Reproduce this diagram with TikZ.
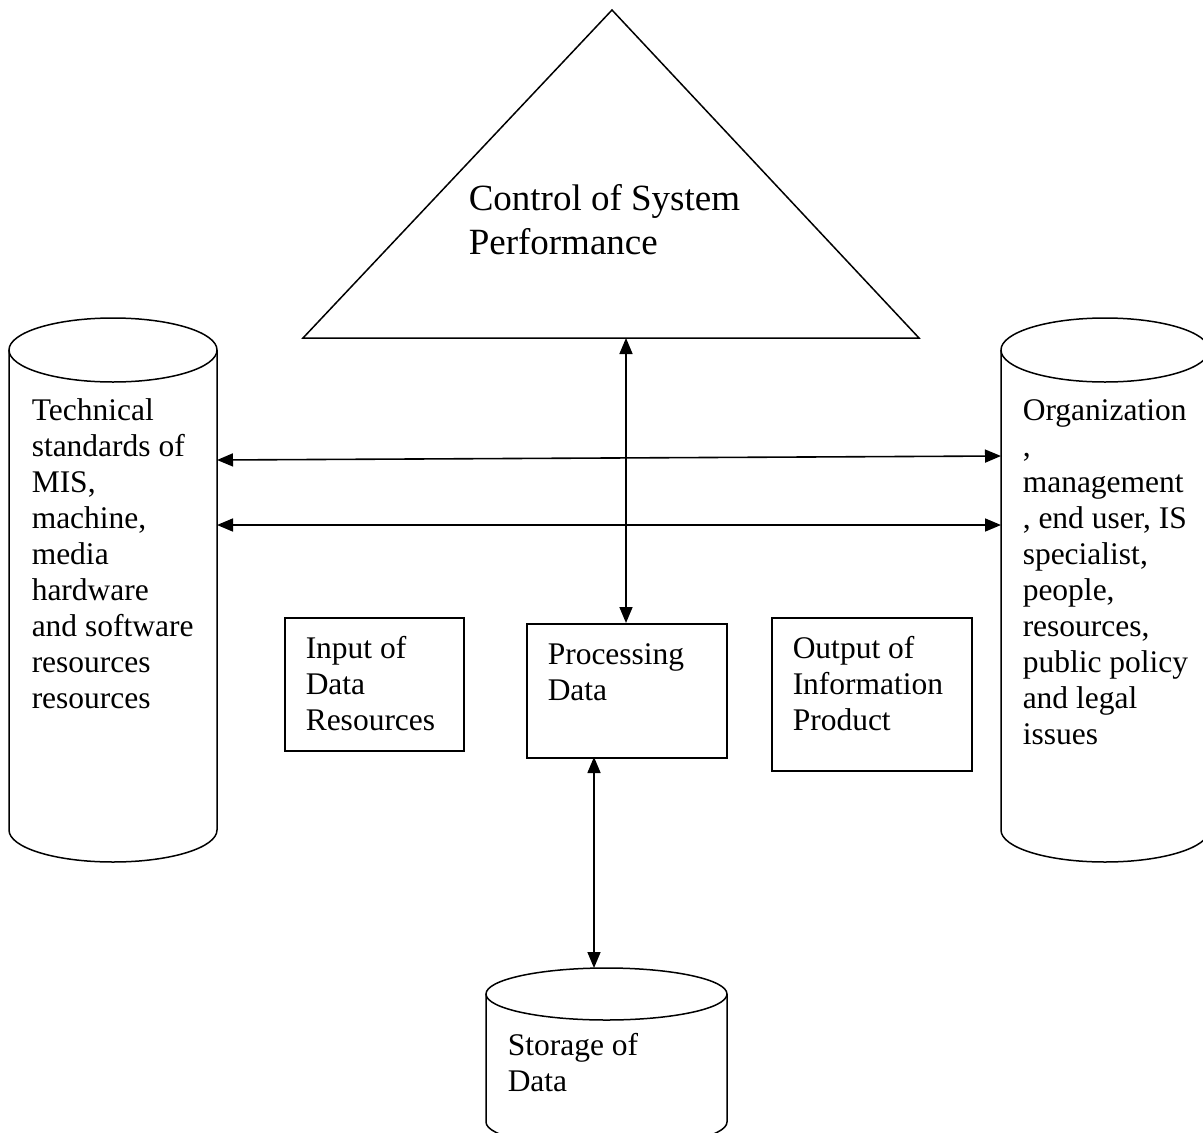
\documentclass[tikz,border=0pt]{standalone}
\usepackage{fontspec}
\setmainfont{Liberation Serif}
\usetikzlibrary{arrows.meta}
\begin{document}
\begin{tikzpicture}[x=1pt,y=-1pt,line width=1.5pt,
  tip/.tip={Triangle[length=16pt,width=13pt]},
  conn/.style={tip-tip, line width=1.6pt},
  bodytext/.style={anchor=north west, inner sep=0pt, align=left,
    font=\fontsize{31.5}{36}\selectfont},
  titletext/.style={anchor=north west, inner sep=0pt, align=left,
    font=\fontsize{37}{44}\selectfont},
  procbox/.style 2 args={draw, anchor=north west, inner sep=0pt,
    minimum width=#1, minimum height=#2}]
\useasboundingbox (0,0) rectangle (1203,1133);

% control triangle
\draw[line join=miter] (612,10) -- (919,338) -- (303,338) -- cycle;
\node[titletext] (ctrl) at (468,179.2) {\strut Control of System\\Performance};

% left cylinder: technical resources
\draw (9,350) -- (9,830) arc[start angle=180, end angle=360, x radius=104pt, y radius=32pt] -- (217,350);
\draw[fill=white] (113,350) ellipse [x radius=104pt, y radius=32pt];
\node[bodytext] (tech) at (31,394.8) {\strut Technical\\standards of\\MIS,\\machine,\\media\\hardware\\and software\\resources\\resources};

% right cylinder: people and organization
\draw (1001,350) -- (1001,830) arc[start angle=180, end angle=360, x radius=104pt, y radius=32pt] -- (1209,350);
\draw[fill=white] (1105,350) ellipse [x radius=104pt, y radius=32pt];
\node[bodytext] (org) at (1022,394.8) {\strut Organization\\,\\management\\, end user, IS\\specialist,\\people,\\resources,\\public policy\\and legal\\issues};

% storage cylinder
\draw (486,994) -- (486,1122) arc[start angle=180, end angle=360, x radius=120.5pt, y radius=26pt] -- (727,994);
\draw[fill=white] (606.5,994) ellipse [x radius=120.5pt, y radius=26pt];
\node[bodytext] (store) at (507,1029.8) {\strut Storage of\\Data};

% IPO boxes
\node[procbox={179pt}{133pt}] (inbox) at (284,617) {};
\node[bodytext] (intext) at (305,632.8) {\strut Input of\\Data\\Resources};
\node[procbox={200pt}{134pt}] (proc) at (526,623) {};
\node[bodytext] (proctext) at (547,638.8) {\strut Processing\\Data};
\node[procbox={200pt}{153pt}] (outbox) at (771,617) {};
\node[bodytext] (outtext) at (792,632.8) {\strut Output of\\Information\\Product};

% connector end points
\coordinate (triBase) at (626,338);
\coordinate (procTop) at (626,623);
\coordinate (procLow) at (594,757);
\coordinate (storeTop) at (594,968);
\coordinate (techA) at (217,460);
\coordinate (orgA) at (1001,456);
\coordinate (techB) at (217,525);
\coordinate (orgB) at (1001,525);

% connectors
\draw[conn] (triBase) -- (procTop);
\draw[conn] (procLow) -- (storeTop);
\draw[conn] (techA) -- (orgA);
\draw[conn] (techB) -- (orgB);
\end{tikzpicture}
\end{document}
